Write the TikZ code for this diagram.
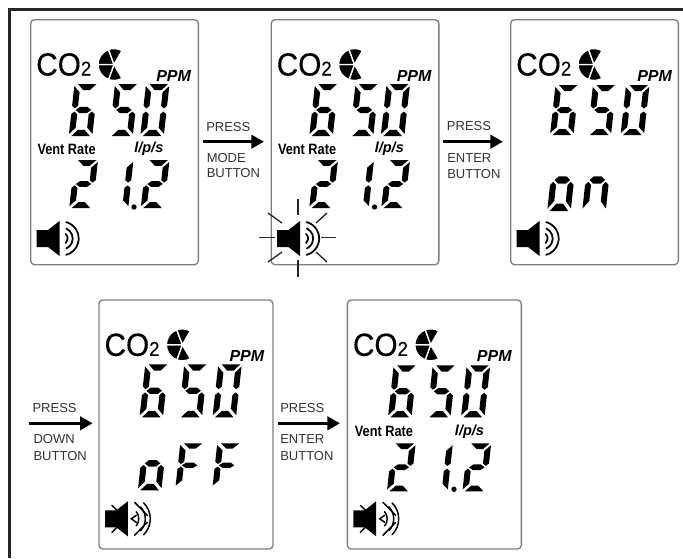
\documentclass[tikz,border=0pt]{standalone}
\usepackage{fontspec}
\setmainfont{Liberation Sans}
\newfontfamily\cofont[FakeBold=0.3]{Liberation Sans}
\usepackage{xcolor}
\usetikzlibrary{arrows.meta, positioning}

\definecolor{lcdgrey}{HTML}{7F7F7F}
\definecolor{labelgrey}{HTML}{333333}

\tikzset{
	lcdsmall/.style={draw=lcdgrey, line width=1pt, rounded corners=3pt, anchor=north west, inner sep=0pt, minimum width=125.8pt, minimum height=183.8pt},
	lcdbig/.style={draw=lcdgrey, line width=1pt, rounded corners=3pt, anchor=north west, inner sep=0pt, minimum width=130.5pt, minimum height=186.8pt},
	cotext/.style={anchor=base west, inner sep=0pt, xscale=0.93, font=\fontsize{24}{26}\selectfont\cofont},
	ppmtext/.style={anchor=base west, inner sep=0pt, font=\fontsize{12}{14}\selectfont\bfseries\itshape},
	venttext/.style={anchor=west, inner sep=0pt, xscale=0.85, font=\fontsize{11.25}{13}\selectfont\bfseries},
	lpstext/.style={anchor=west, inner sep=0pt, font=\fontsize{10.9}{13}\selectfont\bfseries\itshape},
	presstext/.style={anchor=west, inner sep=0pt, text=labelgrey, font=\fontsize{9.75}{12}\selectfont},
	pressarrow/.style={line width=2.6pt, -{Triangle[length=9.5pt, width=10pt]}},
	frameline/.style={line width=2.4pt, black!85},
	rayline/.style={line width=1pt, black!85},
	waveline/.style={line width=1.3pt, line cap=round},
	muteline/.style={line width=1.1pt, line cap=round},
	segA/.style={insert path={(3.5,0) -- (22,0) -- (16,6) -- (9.5,6) -- cycle}},
	segB/.style={insert path={(23.5,2) -- (17.5,8) -- (17.5,21) -- (20.5,23.5) -- (23.5,21) -- cycle}},
	segC/.style={insert path={(23.5,29) -- (20.5,26.5) -- (17.5,29) -- (17.5,42) -- (23.5,48) -- cycle}},
	segD/.style={insert path={(8.5,44) -- (15,44) -- (21,50) -- (2.5,50) -- cycle}},
	segE/.style={insert path={(0,29) -- (3,26.5) -- (6,29) -- (6,42) -- (0,48) -- cycle}},
	segF/.style={insert path={(0,2) -- (6,8) -- (6,21) -- (3,23.5) -- (0,21) -- cycle}},
	segG/.style={insert path={(4,25) -- (8,22) -- (15.5,22) -- (19.5,25) -- (15.5,28) -- (8,28) -- cycle}},
}

% x, y, height, segments
\newcommand{\lcddigit}[4]{
	\begin{scope}[shift={(#1,#2)}, xslant=0.11, yscale=#3/50]
		\foreach \s in {#4}{\fill[black, seg\s];}
	\end{scope}
}
% name, x of ppm
\newcommand{\lcdhead}[2]{
	\node[cotext] (#1co) at (6,56.5) {CO{\fontsize{15}{16}\selectfont 2}};
	\foreach \a/\b in {60/110, 110/180, 180/250, 250/300}{
		\fill[black, draw=white, line width=1pt] (84,45.5) -- ++(\a:16) arc[start angle=\a, end angle=\b, radius=16] -- cycle;
	}
	\node[ppmtext] (#1ppm) at (#2,62) {PPM};
}
% x of 6, x of 5, x of 0, y, height
\newcommand{\lcdsixfifty}[5]{
	\lcddigit{#1}{#4}{#5}{A,C,D,E,F,G}
	\lcddigit{#2}{#4}{#5}{A,C,D,F,G}
	\lcddigit{#3}{#4}{#5}{A,B,C,D,E,F}
}
% x of first 2, x of 1, x of last 2, y, x of dot, y of dot
\newcommand{\lcdrate}[6]{
	\lcddigit{#1}{#4}{48}{A,B,D,E,G}
	\lcddigit{#2}{#4}{48}{B,C}
	\lcddigit{#3}{#4}{48}{A,B,D,E,G}
	\fill[black] (#5,#6) circle[radius=2pt];
}
% name, x of vent rate, x of l/p/s, y
\newcommand{\lcdvent}[4]{
	\node[venttext] (#1vent) at (#2,#4) {Vent Rate};
	\node[lpstext] (#1lps) at (#3,#4) {l/p/s};
}
\newcommand{\lcdcone}{
	\fill[black] (6.7,211) -- (18,211) -- (29.5,202) -- (29.5,237) -- (18,228) -- (6.7,228) -- cycle;
}
\newcommand{\lcdspeaker}{
	\lcdcone
	\foreach \r/\a in {6/50, 11/65, 17/75}{
		\draw[waveline] (31.7,219.5) ++(-\a:\r) arc[start angle=-\a, end angle=\a, radius=\r];
	}
}
\newcommand{\lcdmuted}{
	\lcdcone
	\foreach \r/\a in {11/40, 17.5/43, 22.5/45}{
		\draw[muteline] (29.5,219.5) ++(-\a:\r) arc[start angle=-\a, end angle=\a, radius=\r];
	}
	\draw[muteline] (38,216) -- (33,219.5) -- (38,223);
	\draw[muteline] (13.7,206) -- (20.3,212.7);
	\draw[muteline] (13.7,233) -- (20.3,226.3);
	\draw[muteline] (36.3,203) -- (49,216);
	\draw[muteline] (36.3,236) -- (49,223);
}

\begin{document}
\begin{tikzpicture}[x=0.75pt, y=-0.75pt]
	\useasboundingbox (0,0) rectangle (683,558);
	% Outer frame:
	\coordinate (frameA) at (9.5,558);
	\coordinate (frameB) at (9.5,9.5);
	\coordinate (frameC) at (683,9.5);
	\draw[frameline] (frameA) -- (frameB) -- (frameC);
	% First row of displays:
	\begin{scope}[shift={(30,19)}]
		\node[lcdsmall] (lcdA) at (0,0){};
		\lcdhead{lcdA}{126}
		\lcdsixfifty{44.5}{85}{116}{65}{52}
		\lcdvent{lcdA}{7.3}{104}{130}
		\lcdrate{44.5}{80}{116}{141}{104}{188}
		\lcdspeaker
	\end{scope}
	\begin{scope}[shift={(270.5,19)}]
		\node[lcdsmall] (lcdB) at (0,0){};
		\lcdhead{lcdB}{126}
		\lcdsixfifty{44.5}{85}{116}{65}{52}
		\lcdvent{lcdB}{7.3}{104}{130}
		\lcdrate{44}{80}{116}{141}{104}{188}
		\lcdspeaker
		\foreach \xa/\ya/\xb/\yb in {-11.5/218.3/4.5/218.3, 50.5/218.3/65.5/218.3, 27.5/180/27.5/196, 27.5/241/27.5/258, -2.5/194/11.5/204, 45.5/204/56.5/194, -2.5/243/11.5/233, 45.5/233/56.5/243}{
			\draw[rayline] (\xa,\ya) -- (\xb,\yb);
		}
	\end{scope}
	\begin{scope}[shift={(510,19)}]
		\node[lcdsmall] (lcdC) at (0,0){};
		\lcdhead{lcdC}{127}
		\lcdsixfifty{45.5}{83}{116}{66}{50}
		\lcddigit{44}{130}{62}{C,D,E,G}
		\lcddigit{79}{130}{62}{C,E,G}
		\lcdspeaker
	\end{scope}
	% Second row of displays:
	\begin{scope}[shift={(98.3,299.3)}]
		\node[lcdbig] (lcdD) at (0,0){};
		\lcdhead{lcdD}{131}
		\lcdsixfifty{47}{86}{120}{65}{53}
		\lcddigit{45.5}{137}{54}{C,D,E,G}
		\lcddigit{82}{144}{44}{A,E,F,G}
		\lcddigit{119}{144}{44}{A,E,F,G}
		\lcdmuted
	\end{scope}
	\begin{scope}[shift={(346.7,299.3)}]
		\node[lcdbig] (lcdE) at (0,0){};
		\lcdhead{lcdE}{130}
		\lcdsixfifty{47}{86}{120}{66}{52}
		\lcdvent{lcdE}{8}{108}{132}
		\lcdrate{45.5}{82.7}{121}{144}{107.3}{190}
		\lcdmuted
	\end{scope}
	% Arrows and their labels:
	\coordinate (modeS) at (203,141.7);
	\coordinate (modeE) at (264,141.7);
	\draw[pressarrow] (modeS) -- (modeE);
	\node[presstext] (modeP) at (206,126.7){PRESS};
	\node[presstext] (modeA) at (206.5,157.7){MODE};
	\node[presstext] (modeB) at (206.5,173.3){BUTTON};
	\coordinate (enterS) at (443,141.7);
	\coordinate (enterE) at (503,141.7);
	\draw[pressarrow] (enterS) -- (enterE);
	\node[presstext] (enterP) at (446.7,126.5){PRESS};
	\node[presstext] (enterA) at (447,158){ENTER};
	\node[presstext] (enterB) at (447,174){BUTTON};
	\coordinate (downS) at (29.3,423.3);
	\coordinate (downE) at (92.7,423.3);
	\draw[pressarrow] (downS) -- (downE);
	\node[presstext] (downP) at (32.3,408.3){PRESS};
	\node[presstext] (downA) at (33.3,439){DOWN};
	\node[presstext] (downB) at (33.3,455.7){BUTTON};
	\coordinate (backS) at (278,423.3);
	\coordinate (backE) at (340,423.3);
	\draw[pressarrow] (backS) -- (backE);
	\node[presstext] (backP) at (280,408.3){PRESS};
	\node[presstext] (backA) at (280,439){ENTER};
	\node[presstext] (backB) at (280,455.7){BUTTON};
\end{tikzpicture}
\end{document}
